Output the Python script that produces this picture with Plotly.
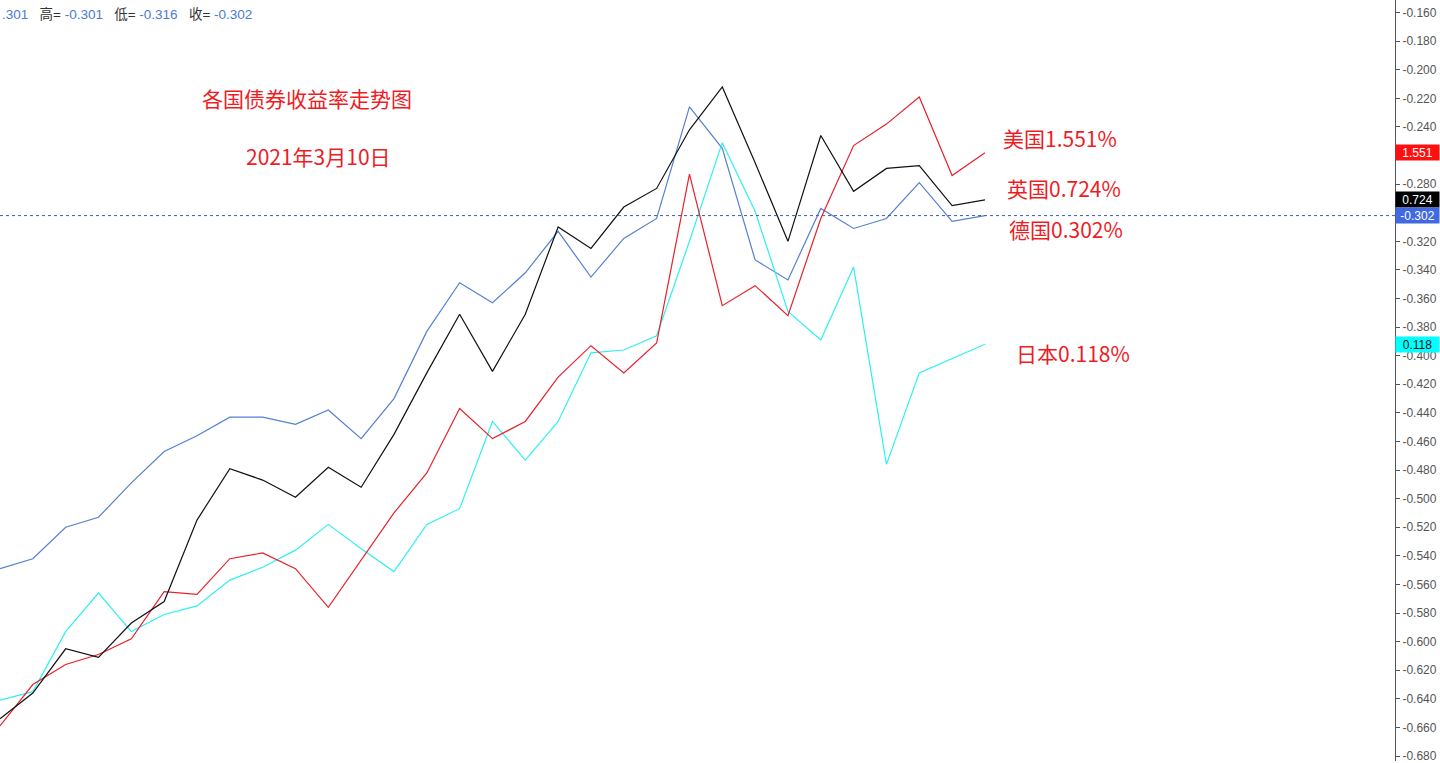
import plotly.graph_objects as go

# Index of trading days (31 points)
days = list(range(31))

# Values in the chart's axis units (German 10Y scale; other lines overlaid on it)
germany = [-0.549, -0.542, -0.520, -0.513, -0.489, -0.467, -0.456, -0.443, -0.443, -0.448,
           -0.438, -0.458, -0.430, -0.383, -0.349, -0.363, -0.342, -0.313, -0.345, -0.318,
           -0.304, -0.226, -0.255, -0.333, -0.347, -0.297, -0.311, -0.304, -0.279, -0.306,
           -0.302]
uk = [-0.654, -0.636, -0.605, -0.611, -0.587, -0.572, -0.515, -0.479, -0.487, -0.499,
      -0.478, -0.492, -0.455, -0.412, -0.371, -0.411, -0.371, -0.310, -0.325, -0.296,
      -0.283, -0.242, -0.212, -0.265, -0.320, -0.246, -0.285, -0.269, -0.267, -0.295,
      -0.291]
us = [-0.659, -0.630, -0.616, -0.609, -0.598, -0.565, -0.567, -0.542, -0.538, -0.549,
      -0.576, -0.543, -0.510, -0.482, -0.437, -0.458, -0.446, -0.415, -0.393, -0.412,
      -0.391, -0.273, -0.365, -0.351, -0.372, -0.304, -0.253, -0.238, -0.219, -0.274,
      -0.258]
japan = [-0.641, -0.635, -0.593, -0.566, -0.593, -0.581, -0.575, -0.557, -0.548, -0.536,
         -0.518, -0.535, -0.551, -0.518, -0.507, -0.446, -0.473, -0.446, -0.398, -0.396,
         -0.386, -0.320, -0.251, -0.299, -0.369, -0.389, -0.338, -0.476, -0.412, -0.402,
         -0.392]

# Tick labels
tick_vals = [round(-0.68 + 0.02 * i, 3) for i in range(27)]
tick_text = ["%.3f" % v for v in tick_vals]

# Last reported yields (tag texts)
last_yield_us = "1.551"
last_yield_uk = "0.724"
last_yield_de = "-0.302"
last_yield_jp = "0.118"

hover_open = ".301"
hover_high = "-0.301"
hover_low = "-0.316"
hover_close = "-0.302"

RED = "#ee1c25"
BLUE = "#5580d0"
BLACK = "#111111"
CYAN = "#2ef0f0"
CJK = "Noto Sans CJK SC"

fig = go.Figure()
fig.add_trace(go.Scatter(x=days, y=germany, mode="lines", line=dict(color=BLUE, width=1.2), name="德国"))
fig.add_trace(go.Scatter(x=days, y=japan, mode="lines", line=dict(color=CYAN, width=1.2), name="日本"))
fig.add_trace(go.Scatter(x=days, y=us, mode="lines", line=dict(color="#e8202a", width=1.2), name="美国"))
fig.add_trace(go.Scatter(x=days, y=uk, mode="lines", line=dict(color=BLACK, width=1.2), name="英国"))

# dotted line at last German value
fig.add_shape(type="line", xref="paper", x0=0, x1=1, yref="y", y0=germany[-1], y1=germany[-1],
              line=dict(color="#3a5dae", width=1, dash="dot"))

annotations = []
# value tags on the right axis
for val, text, bg, fg in [(us[-1], last_yield_us, "#ff1010", "white"),
                          (uk[-1], last_yield_uk, "#000000", "white"),
                          (germany[-1], last_yield_de, "#4169e1", "white"),
                          (japan[-1], last_yield_jp, "#00ffff", "#111111")]:
    annotations.append(dict(xref="paper", x=1, xanchor="left", xshift=0, yref="y", y=val,
                            yanchor="middle", text=text, showarrow=False, bgcolor=bg,
                            width=43, height=15, borderpad=0, align="center",
                            font=dict(family="Liberation Sans, Arial", size=12, color=fg)))

def label(x, y, text):
    return dict(xref="paper", yref="paper", x=x, y=y, xanchor="center", yanchor="middle",
                text=text, showarrow=False, font=dict(family=CJK, size=21, color=RED))

annotations += [
    label(0.2201, 0.8716, "各国债券收益率走势图"),
    label(0.228, 0.7955, "2021年3月10日"),
    label(0.7602, 0.8191, "美国" + last_yield_us + "%"),
    label(0.7627, 0.7523, "英国" + last_yield_uk + "%"),
    label(0.7645, 0.6986, "德国" + last_yield_de.lstrip("-") + "%"),
    label(0.7692, 0.5360, "日本" + last_yield_jp + "%"),
]

hb = "#4a7bd0"
nb = "\u00a0"
hover_text = (f"<span style='color:{hb}'>{hover_open}</span>{nb*3}高= <span style='color:{hb}'>{hover_high}</span>"
              f"{nb*3}低= <span style='color:{hb}'>{hover_low}</span>"
              f"{nb*3}收= <span style='color:{hb}'>{hover_close}</span>")
annotations.append(dict(xref="paper", yref="paper", x=0, xanchor="left", y=0.9817, yanchor="middle",
                        text=hover_text, showarrow=False,
                        font=dict(family="Liberation Sans, " + CJK, size=13.5, color="#333333")))

fig.update_layout(
    width=1440, height=763,
    margin=dict(l=0, r=45, t=0, b=0),
    paper_bgcolor="white", plot_bgcolor="white",
    showlegend=False,
    annotations=annotations,
    xaxis=dict(range=[0, 42.49], visible=False, fixedrange=True),
    yaxis=dict(range=[-0.6835, -0.1512], side="right", tickvals=tick_vals, ticktext=tick_text,
               ticks="outside", ticklen=4, tickcolor="#555555", showline=True, linecolor="#555555",
               linewidth=1, showgrid=False, zeroline=False, ticklabeloverflow="allow",
               tickfont=dict(family="Liberation Sans, Arial", size=12, color="#555555")),
)

fig.write_html("out.html", config={"displayModeBar": False})

# remove default page margin so the figure sits at the window's top-left corner
with open("out.html", encoding="utf-8") as f:
    html = f.read()
html = html.replace("<body>", "<body style=\"margin:0;padding:0;overflow:hidden\">", 1)
with open("out.html", "w", encoding="utf-8") as f:
    f.write(html)
